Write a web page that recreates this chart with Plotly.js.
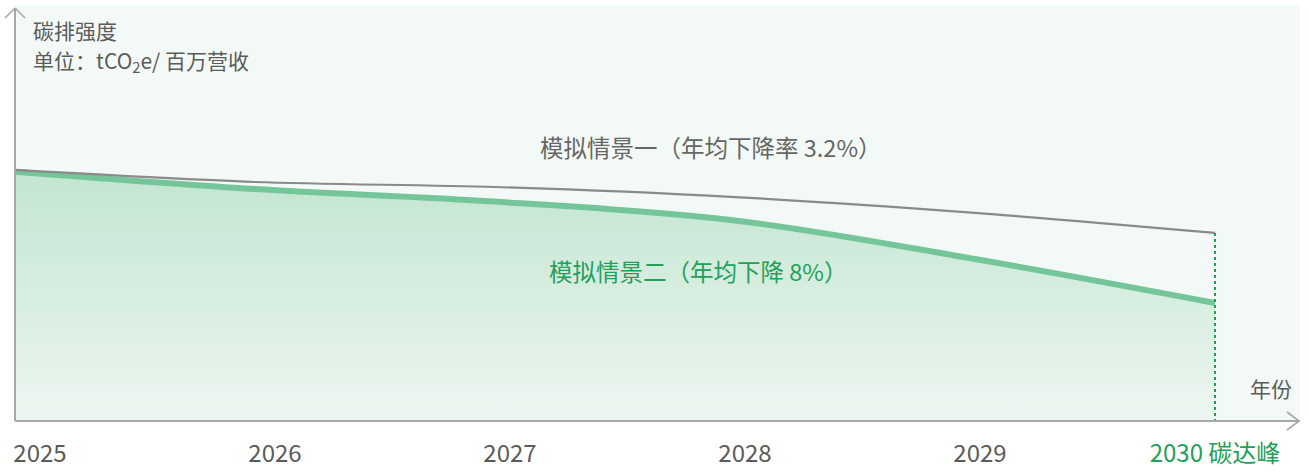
<!DOCTYPE html>
<html>
<head>
<meta charset="utf-8">
<script src="https://cdn.plot.ly/plotly-3.0.1.min.js"></script>
<style>html,body{margin:0;padding:0;background:#fff;}#chart{width:1309px;height:473px;}</style>
</head>
<body>
<div id="chart"></div>
<script>
// Years and values (carbon intensity index; 2025 ≈ 100)
const years = [2025, 2026, 2027, 2028, 2029, 2030];
const tickLabels = ['2025', '2026', '2027', '2028', '2029', '2030 碳达峰'];
const scenario1 = [100, 95.2, 93.2, 89.2, 82.9, 74.9];   // 模拟情景一（年均下降率 3.2%）
const scenario2 = [99.3, 92.4, 87.4, 79.9, 64.5, 47.0];  // 模拟情景二（年均下降 8%）
const peakYear = 2030;

const FONT = '"Noto Sans CJK SC", "Noto Sans", sans-serif';
const GREEN_TXT = '#23a059';
const GREY_TXT = '#5b5b5b';
const AXIS = '#a8a8a8';

const W = 1309, H = 473;
const M = {l: 15, r: 9, t: 5, b: 52};
const plotW = W - M.l - M.r;   // 1285
const plotH = H - M.t - M.b;   // 416
const pxPerYear = 240;
const xRange = [years[0], years[0] + plotW / pxPerYear];
const yMax = 165.7;

// label axis: labels evenly spread (first at 25px, then every 235px)
const lblStep = 235, lblFirst = 25;
const idx = tickLabels.map((_, i) => i);
const x2Range = [-lblFirst / lblStep, -lblFirst / lblStep + plotW / lblStep];
const tickText = tickLabels.map((t, i) => i === tickLabels.length - 1 ? '<span style="color:' + GREEN_TXT + '">' + t + '</span>' : t);

const traces = [
  {
    x: years, y: scenario2, type: 'scatter', mode: 'lines',
    line: {color: '#74c69a', width: 6, shape: 'spline', smoothing: 1},
    fill: 'tozeroy',
    fillgradient: {type: 'vertical', start: 0, stop: 100,
      colorscale: [[0, '#edf6f0'], [1, '#c2e5d1']]},
    hoverinfo: 'skip', showlegend: false
  },
  {
    x: years, y: scenario1, type: 'scatter', mode: 'lines',
    line: {color: '#8a8a8a', width: 2.2, shape: 'spline', smoothing: 0.9},
    hoverinfo: 'skip', showlegend: false
  },
  {
    x: [peakYear, peakYear], y: [scenario1[scenario1.length - 1], 0], type: 'scatter', mode: 'lines',
    line: {color: '#1f9e55', width: 2, dash: 'dot'},
    hoverinfo: 'skip', showlegend: false
  },
  {
    x: idx, y: idx.map(() => null), xaxis: 'x2', type: 'scatter', mode: 'lines',
    hoverinfo: 'skip', showlegend: false
  }
];

const topFrac = 1 - 3 / plotH;
const py = p => (421 - p) / plotH;          // pixel row -> paper y
const px = p => (p - M.l) / plotW;          // pixel col -> paper x
const layout = {
  width: W, height: H,
  margin: M,
  paper_bgcolor: '#ffffff',
  plot_bgcolor: '#f3f9f6',
  font: {family: FONT, color: GREY_TXT, size: 20},
  xaxis: {range: xRange, showgrid: false, zeroline: false, showline: false,
          showticklabels: false, ticks: '', fixedrange: true},
  xaxis2: {range: x2Range, overlaying: 'x', anchor: 'y', side: 'bottom',
           tickmode: 'array', tickvals: idx, ticktext: tickText,
           showgrid: false, zeroline: false, showline: false, ticks: '',
           ticklabelstandoff: 16,
           tickfont: {family: FONT, size: 24, color: GREY_TXT}},
  yaxis: {range: [0, yMax], showgrid: false, zeroline: false, showline: false,
          showticklabels: false, ticks: '', fixedrange: true},
  shapes: [
    // y axis + arrow
    {type: 'line', xref: 'paper', yref: 'paper', x0: 0, x1: 0, y0: 0, y1: topFrac,
     line: {color: AXIS, width: 2}},
    {type: 'line', xref: 'paper', yref: 'paper', xsizemode: 'pixel', ysizemode: 'pixel',
     xanchor: 0, yanchor: topFrac, x0: 0, x1: -10, y0: 0, y1: -10, line: {color: AXIS, width: 1.6}},
    {type: 'line', xref: 'paper', yref: 'paper', xsizemode: 'pixel', ysizemode: 'pixel',
     xanchor: 0, yanchor: topFrac, x0: 0, x1: 10, y0: 0, y1: -10, line: {color: AXIS, width: 1.6}},
    // x axis + arrow
    {type: 'line', xref: 'paper', yref: 'paper', x0: 0, x1: 1, y0: 0, y1: 0,
     line: {color: AXIS, width: 2}},
    {type: 'line', xref: 'paper', yref: 'paper', xsizemode: 'pixel', ysizemode: 'pixel',
     xanchor: 1, yanchor: 0, x0: -1, x1: -13, y0: 0, y1: 9, line: {color: AXIS, width: 1.6}},
    {type: 'line', xref: 'paper', yref: 'paper', xsizemode: 'pixel', ysizemode: 'pixel',
     xanchor: 1, yanchor: 0, x0: -1, x1: -13, y0: 0, y1: -9, line: {color: AXIS, width: 1.6}}
  ],
  annotations: [
    {xref: 'paper', yref: 'paper', x: px(31), y: py(30), xanchor: 'left', yanchor: 'middle',
     showarrow: false, text: '碳排强度',
     font: {family: FONT, size: 21, color: GREY_TXT}},
    {xref: 'paper', yref: 'paper', x: px(31), y: py(61), xanchor: 'left', yanchor: 'middle',
     showarrow: false, text: '单位：tCO<sub>2</sub>e/ 百万营收',
     font: {family: FONT, size: 21, color: GREY_TXT}},
    {xref: 'paper', yref: 'paper', x: px(1294), y: py(388),
     xanchor: 'right', yanchor: 'middle', showarrow: false, text: '年份',
     font: {family: FONT, size: 21, color: GREY_TXT}},
    {xref: 'paper', yref: 'paper', x: px(711), y: py(147),
     xanchor: 'center', yanchor: 'middle', showarrow: false,
     text: '模拟情景一（年均下降率 3.2%）',
     font: {family: FONT, size: 23.5, color: '#666666'}},
    {xref: 'paper', yref: 'paper', x: px(698), y: py(271),
     xanchor: 'center', yanchor: 'middle', showarrow: false,
     text: '模拟情景二（年均下降 8%）',
     font: {family: FONT, size: 23.5, color: GREEN_TXT}}
  ]
};

Plotly.newPlot('chart', traces, layout, {displayModeBar: false, staticPlot: true});
</script>
</body>
</html>
